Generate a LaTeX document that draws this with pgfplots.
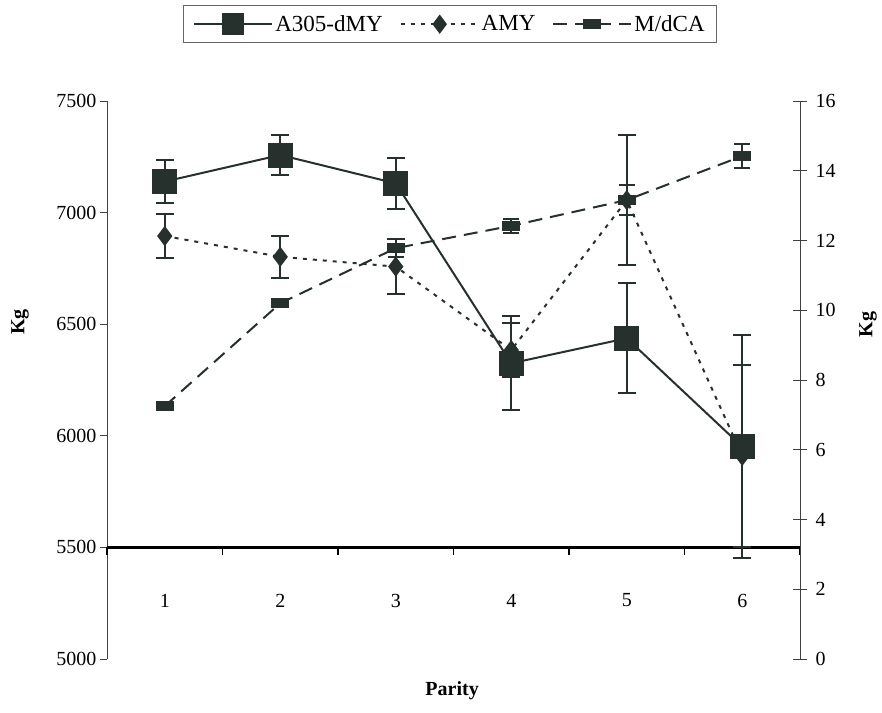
\documentclass[border=0pt]{standalone}
\usepackage{fontspec}
\setmainfont{Liberation Serif}
\usepackage{pgfplots}
\pgfplotsset{compat=1.18}
\definecolor{ink}{RGB}{38,48,44}

\pgfplotstableread{
x y e
1 7139 95
2 7258 88
3 7131 115
4 6325 210
5 6437 247
6 5951 500
}\dmy
\pgfplotstableread{
x y e
1 6895 100
2 6802 95
3 6758 123
4 6384 120
5 7056 291
6 5910 407
}\amy
\pgfplotstableread{
x y e
1 7.25 0.1
2 10.2 0.1
3 11.78 0.25
4 12.42 0.2
5 13.16 0.43
6 14.42 0.35
}\mdca

\begin{document}
\begin{tikzpicture}[font=\fontsize{20}{24}\selectfont]
\pgfplotsset{
  base/.style={scale only axis, width=693pt, height=558pt, xmin=0.5, xmax=6.5,
    /pgf/number format/assume math mode=true,
    axis line style={black!75, line width=0.8pt},
    tick style={black!75, line width=0.8pt},
    clip=false,
    ticklabel style={font=\fontsize{20}{24}\selectfont},
  },
  ebar/.style={error bars/.cd, y dir=both, y explicit,
    error bar style={ink, line width=2pt, solid},
    error mark options={ink, rotate=90, mark size=9pt, line width=2pt, solid}},
}
\begin{axis}[base, name=ax,
  ymin=5000, ymax=7500,
  axis y line*=left, axis x line*=bottom,
  x axis line style={draw=none}, xtick=\empty,
  ytick={5000,5500,6000,6500,7000,7500},
  tick align=outside, major tick length=7pt,
  yticklabel style={/pgf/number format/1000 sep={}},
  ylabel={Kg},
  every axis y label/.style={at={(rel axis cs:-0.1255,0.604)}, rotate=90, anchor=center, font=\bfseries\fontsize{20}{24}\selectfont},
  xlabel={Parity},
  every axis x label/.style={at={(rel axis cs:0.498,-0.056)}, anchor=center, font=\bfseries\fontsize{20}{24}\selectfont},
]
\draw[black, line width=2.5pt] (axis cs:0.5,5500) -- (axis cs:6.5,5500);
\pgfplotsinvokeforeach{0.5,1.5,2.5,3.5,4.5,5.5,6.5}{
  \draw[black, line width=1.2pt] (axis cs:#1,5500) -- ++(0pt,-8pt);
}
\pgfplotsinvokeforeach{1,2,3,4,5,6}{
  \node[anchor=center] at (axis cs:#1,5262) {#1};
}
\addplot[ink, line width=2pt, dash pattern=on 4pt off 6pt, mark=diamond*, mark size=8.5pt,
  mark options={solid, fill=ink}, ebar] table[x=x, y=y, y error=e] {\amy};
\addplot[ink, line width=2pt, mark=square*, mark size=11.5pt,
  mark options={solid, fill=ink}, ebar] table[x=x, y=y, y error=e] {\dmy};
\end{axis}

\begin{axis}[base,
  ymin=0, ymax=16,
  axis y line*=right, axis x line=none,
  ytick={0,2,...,16},
  tick align=center, major tick length=14pt,
  yticklabel style={xshift=5pt},
  ylabel={Kg},
  every axis y label/.style={at={(rel axis cs:1.098,0.599)}, rotate=90, anchor=center, font=\bfseries\fontsize{20}{24}\selectfont},
  legend columns=3,
  legend style={at={(rel axis cs:0.495,1.172)}, anchor=north, draw=black!60, line width=0.8pt,
    fill=white, font=\fontsize{23}{27}\selectfont, inner xsep=10pt, inner ysep=8pt,
    /tikz/every even column/.append style={column sep=15pt}},
  legend image code/.code={\draw[mark repeat=2, mark phase=2, #1] plot coordinates {(0pt,0pt) (39pt,0pt) (78pt,0pt)};},
]
\addlegendimage{ink, line width=2pt, mark=square*, mark size=10pt, mark options={solid, fill=ink}}
\addlegendentry{A305-dMY}
\addlegendimage{ink, line width=2pt, dash pattern=on 4pt off 6pt, mark=diamond*, mark size=8pt, mark options={solid, fill=ink}}
\addlegendentry{AMY}
\addplot[ink, line width=2pt, dash pattern=on 14pt off 8pt, mark=square*, mark size=8pt,
  mark options={solid, fill=ink, yscale=0.5},
  error bars/.cd, y dir=both, y explicit,
    error bar style={ink, line width=2pt, solid},
    error mark options={ink, rotate=90, mark size=8pt, line width=2pt, solid}]
  table[x=x, y=y, y error=e] {\mdca};
\addlegendentry{M/dCA}
\end{axis}
\pgfresetboundingbox
\useasboundingbox ([shift={(-107pt,-53pt)}]ax.south west) rectangle ([shift={(82pt,101pt)}]ax.north east);
\end{tikzpicture}
\end{document}
